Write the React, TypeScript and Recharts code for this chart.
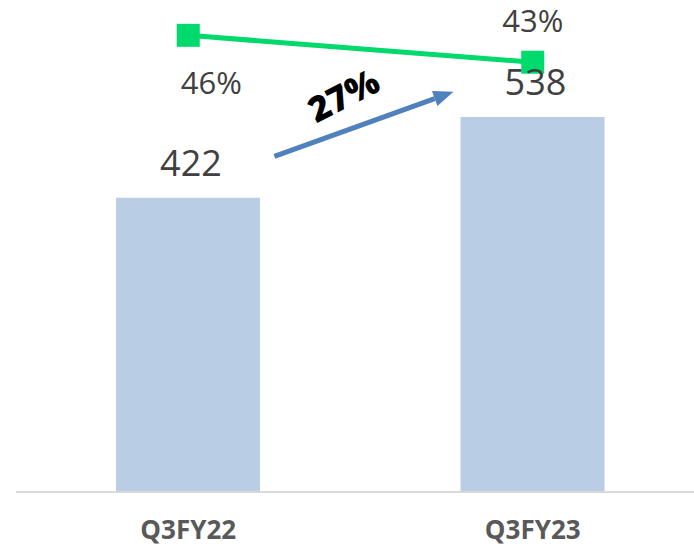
import React from "react";
import { ComposedChart, Bar, Line, XAxis, YAxis, LabelList, ReferenceLine } from "recharts";

const quarters = ["Q3FY22", "Q3FY23"];
const revenue = [422, 538];
const margin = [46, 43];
const growthLabel = "27%";
// arrow drawn along a segment in data space (left axis units)
const arrowFrom = 437;
const arrowTo = 615;

const data = quarters.map((q, i) => ({ quarter: q, revenue: revenue[i], margin: margin[i] }));

const FONT = "'Open Sans', 'DejaVu Sans', sans-serif";

function SquareDot(props: any) {
  const { cx, cy } = props;
  if (cx == null || cy == null) return null;
  return <rect x={cx - 11.5} y={cy - 11.5} width={23} height={23} fill="#00D96B" />;
}

function MarginLabel(props: any) {
  const { x, y, value, index } = props;
  const below = index === 0;
  return (
    <text
      x={below ? x + 23 : x}
      y={below ? y + 47 : y - 42}
      textAnchor="middle"
      dominantBaseline="central"
      fill="#404040"
      fontSize={31}
      fontFamily={FONT}
    >
      {value}%
    </text>
  );
}

function GrowthArrow(props: any) {
  const { x1, y1, x2, y2 } = props;
  if (x1 == null) return null;
  const at = (t: number) => [x1 + (x2 - x1) * t, y1 + (y2 - y1) * t];
  const [sx, sy] = at(0.25);
  const [ex, ey] = at(0.77);
  const ang = Math.atan2(ey - sy, ex - sx);
  const head = 20;
  const half = 8;
  const bx = ex - head * Math.cos(ang);
  const by = ey - head * Math.sin(ang);
  const px = -Math.sin(ang) * half;
  const py = Math.cos(ang) * half;
  const [tx, ty] = at(0.45);
  return (
    <g>
      <line x1={sx} y1={sy} x2={bx} y2={by} stroke="#4F81BD" strokeWidth={5} />
      <polygon points={`${ex},${ey} ${bx + px},${by + py} ${bx - px},${by - py}`} fill="#4F81BD" />
      <text
        x={tx}
        y={ty - 37}
        textAnchor="middle"
        dominantBaseline="central"
        fontSize={35}
        fontWeight={800}
        fontFamily={FONT}
        fill="#000"
        transform={`rotate(-27 ${tx} ${ty - 37})`}
      >
        {growthLabel}
      </text>
    </g>
  );
}

export default function App() {
  return (
    <div style={{ position: "absolute", left: 0, top: 0, width: 694, height: 550, overflow: "hidden", background: "#fff" }}>
      <ComposedChart width={705} height={550} data={data} margin={{ top: 4, right: 0, left: 16, bottom: 0 }}>
        <XAxis
          dataKey="quarter"
          height={58}
          axisLine={{ stroke: "#D9D9D9", strokeWidth: 2 }}
          tickLine={false}
          tickMargin={23}
          tick={{ fill: "#595959", fontSize: 26, fontWeight: "bold", fontFamily: FONT }}
        />
        <YAxis yAxisId="left" hide domain={[0, 700]} />
        <YAxis yAxisId="right" orientation="right" hide domain={[-5, 49.5]} />
        <Bar yAxisId="left" dataKey="revenue" fill="#B9CDE5" barSize={144} isAnimationActive={false}>
          <LabelList dataKey="revenue" position="top" offset={22} dx={3} fill="#404040" fontSize={36} fontFamily={FONT} />
        </Bar>
        <Line
          yAxisId="right"
          dataKey="margin"
          stroke="#00D96B"
          strokeWidth={5}
          dot={<SquareDot />}
          activeDot={false}
          isAnimationActive={false}
        >
          <LabelList dataKey="margin" content={<MarginLabel />} />
        </Line>
        <ReferenceLine
          yAxisId="left"
          segment={[
            { x: quarters[0], y: arrowFrom },
            { x: quarters[1], y: arrowTo },
          ]}
          ifOverflow="visible"
          shape={<GrowthArrow />}
        />
      </ComposedChart>
    </div>
  );
}
